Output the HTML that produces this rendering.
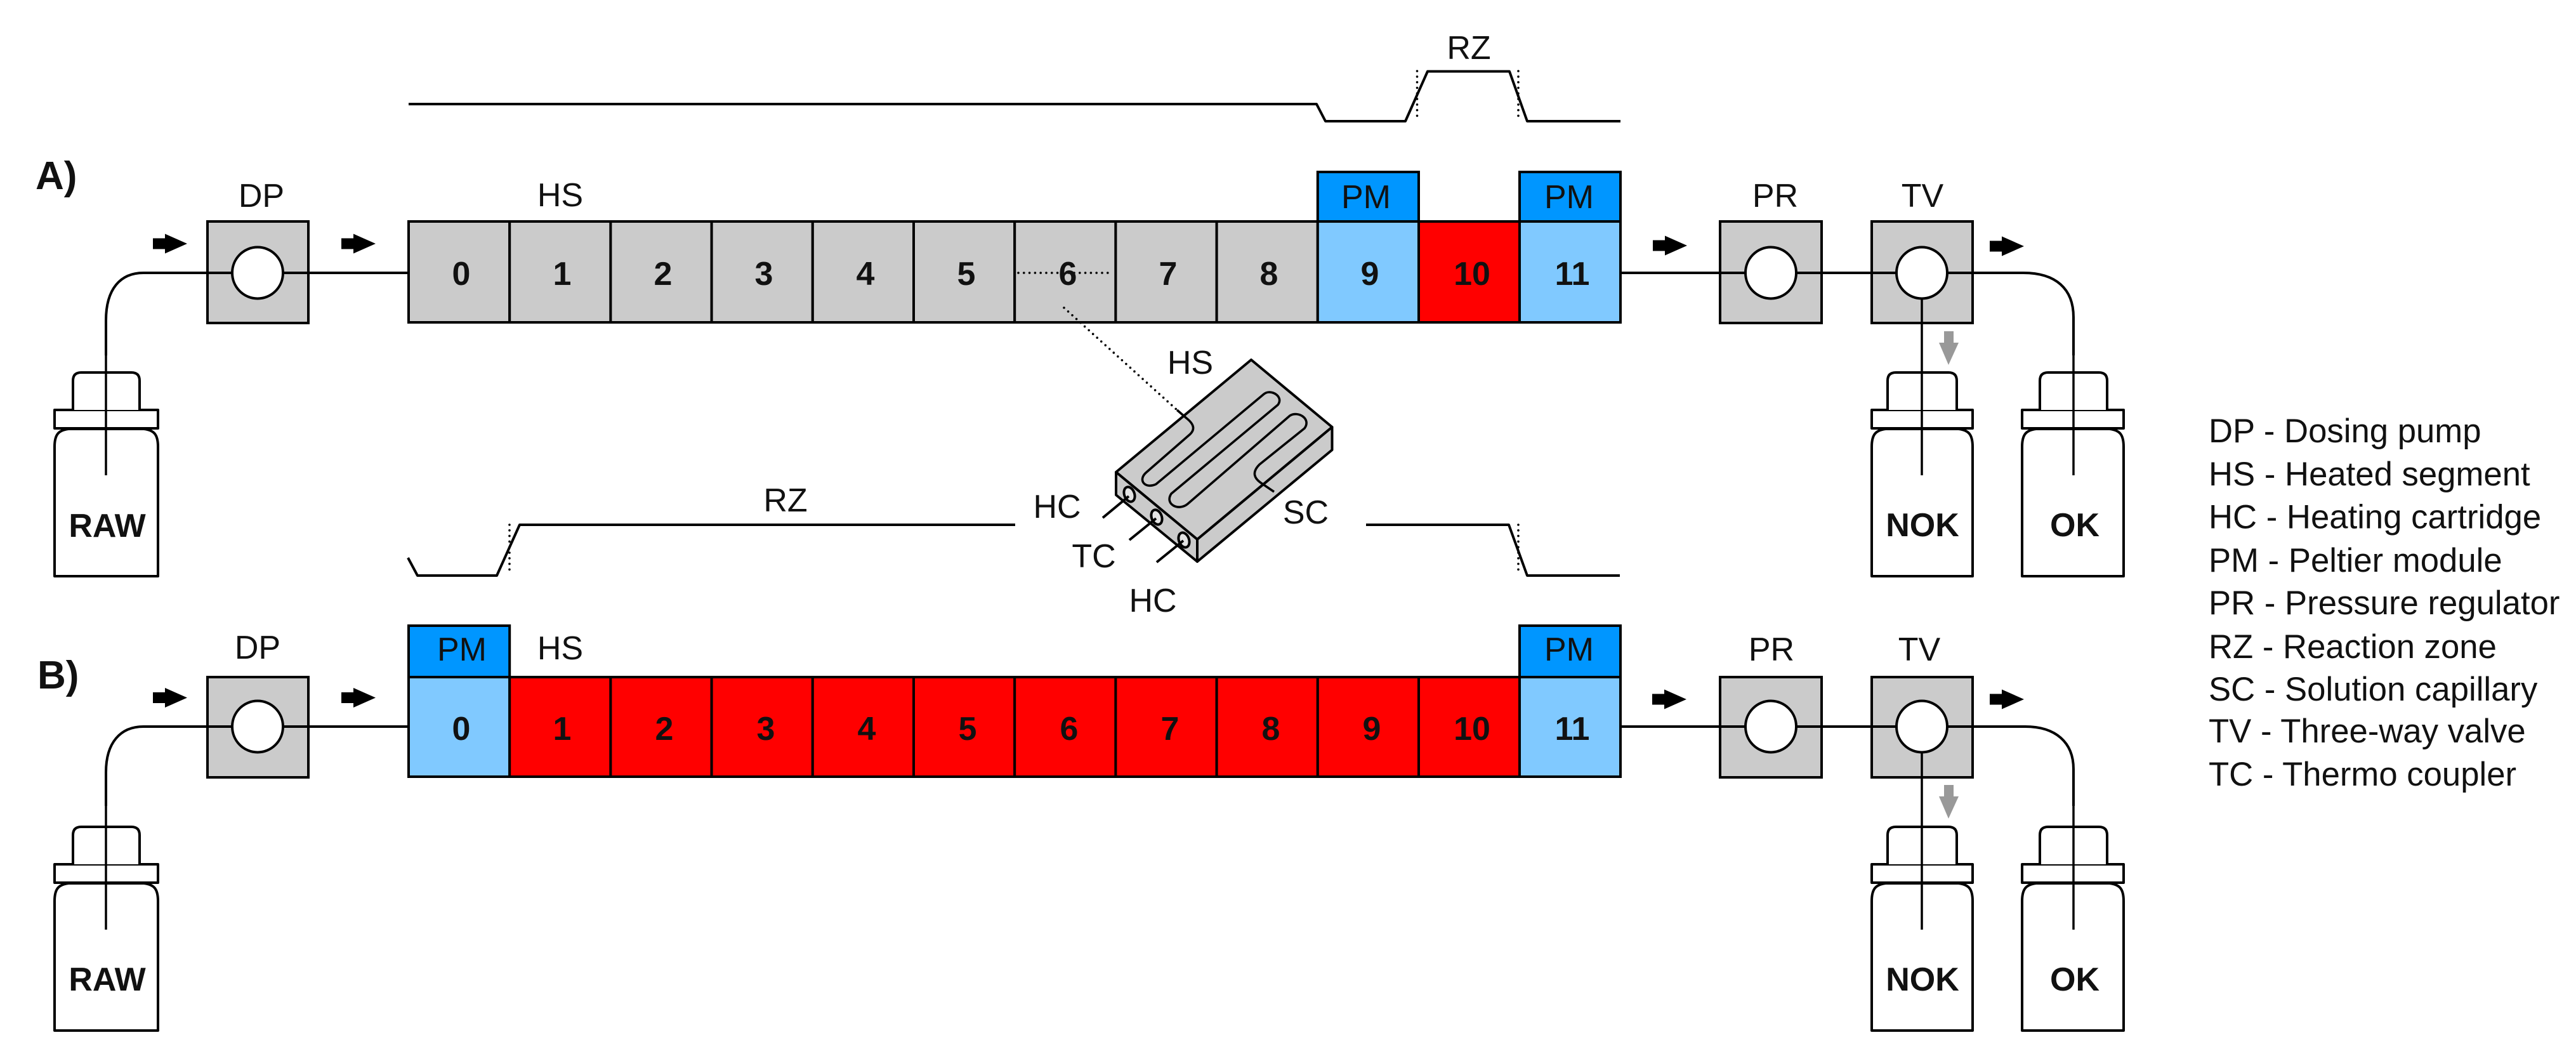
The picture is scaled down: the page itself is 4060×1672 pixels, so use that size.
<!DOCTYPE html>
<html lang="en">
<head>
<meta charset="utf-8">
<title>Flow reactor diagram</title>
<style>
html,body{margin:0;padding:0;background:#fff;width:4060px;height:1672px;overflow:hidden}
svg{display:block}
text{font-family:"Liberation Sans",Arial,sans-serif;fill:#111;font-size:52px}
.c{text-anchor:middle}
.b{font-weight:bold}
.box{stroke:#000;stroke-width:4;stroke-linejoin:miter}
.l{fill:none;stroke:#000;stroke-width:4;stroke-linejoin:round}
.t{fill:none;stroke:#000;stroke-width:3.5}
.d{fill:none;stroke:#000;stroke-width:3.6;stroke-linecap:round;stroke-dasharray:0 8.8}
.g{fill:#cbcbcb}.lb{fill:#80c9ff}.pm{fill:#0096ff}.r{fill:#ff0000}
.circ{fill:#fff;stroke:#000;stroke-width:4}
</style>
</head>
<body>
<svg xmlns="http://www.w3.org/2000/svg" width="4060" height="1672" viewBox="0 0 4060 1672">
<defs>
<polygon id="arr" points="0,-8.5 19,-8.5 19,-15.5 54,0 19,15.5 19,8.5 0,8.5" fill="#000"/>
<polygon id="garr" points="3064,522 3079,522 3079,540 3087,540 3071,575 3056,540 3064,540" fill="#999"/>
<g id="b1" class="l" fill="#fff">
<path d="M86 908V704C86 685 92 678 108 676H227C243 678 249 685 249 704V908Z" fill="#fff"/>
<rect x="86" y="646" width="163" height="29" fill="#fff"/>
<path d="M115 646V600Q115 587 128 587H207Q220 587 220 600V646" fill="#fff"/>
</g>
<g id="b2" class="l">
<path d="M2950 908V704C2950 685 2956 678 2972 676H3087C3103 678 3109 685 3109 704V908Z" fill="#fff"/>
<rect x="2950" y="646" width="159" height="29" fill="#fff"/>
<path d="M2975 646V600Q2975 587 2988 587H3071Q3084 587 3084 600V646" fill="#fff"/>
</g>
<g id="b3" class="l">
<path d="M3187 908V704C3187 685 3193 678 3209 676H3325C3341 678 3347 685 3347 704V908Z" fill="#fff"/>
<rect x="3187" y="646" width="160" height="29" fill="#fff"/>
<path d="M3215 646V600Q3215 587 3228 587H3308Q3321 587 3321 600V646" fill="#fff"/>
</g>
</defs>

<!-- Upper profile -->
<polyline class="l" points="644,164 2075,164 2089,191 2215,191 2250,112.5 2379,112.5 2407,191 2554,191"/>
<line class="d" x1="2233.5" y1="112" x2="2233.5" y2="186"/>
<line class="d" x1="2393" y1="112" x2="2393" y2="186"/>
<text class="c" x="2315" y="93">RZ</text>

<!-- Panel A -->
<text class="b" x="56" y="298" style="font-size:62px">A)</text>

<!-- bottles A -->
<use href="#b1"/><use href="#b2"/><use href="#b3"/>
<!-- boxes A -->
<rect class="box g" x="327" y="349" width="159" height="160"/>
<rect class="box g" x="2711" y="349" width="160" height="160"/>
<rect class="box g" x="2950" y="349" width="159" height="160"/>
<!-- tubes A -->
<path class="l" d="M326 430H226C190 430 167 455 167 505V560"/>
<line class="t" x1="167" y1="555" x2="167" y2="749"/>
<line class="l" x1="326" y1="430" x2="366" y2="430"/>
<line class="l" x1="446" y1="430" x2="644" y2="430"/>
<line class="l" x1="2554" y1="430" x2="2751" y2="430"/>
<line class="l" x1="2832" y1="430" x2="2989" y2="430"/>
<path class="l" d="M3069 430H3189C3240 430 3268 455 3268 500V560"/>
<line class="t" x1="3268" y1="555" x2="3268" y2="749"/>
<line class="t" x1="3029" y1="470" x2="3029" y2="749"/>
<ellipse class="circ" cx="406" cy="430" rx="40" ry="40.5"/>
<ellipse class="circ" cx="2791" cy="430" rx="40" ry="40.5"/>
<ellipse class="circ" cx="3029" cy="430" rx="40" ry="40.5"/>

<!-- segments A -->
<g class="box">
<rect class="g" x="644" y="349" width="159.2" height="159"/>
<rect class="g" x="803.2" y="349" width="159.2" height="159"/>
<rect class="g" x="962.4" y="349" width="159.2" height="159"/>
<rect class="g" x="1121.6" y="349" width="159.2" height="159"/>
<rect class="g" x="1280.8" y="349" width="159.2" height="159"/>
<rect class="g" x="1440" y="349" width="159.2" height="159"/>
<rect class="g" x="1599.2" y="349" width="159.2" height="159"/>
<rect class="g" x="1758.4" y="349" width="159.2" height="159"/>
<rect class="g" x="1917.6" y="349" width="159.2" height="159"/>
<rect class="lb" x="2076.8" y="349" width="159.2" height="159"/>
<rect class="r" x="2236" y="349" width="159" height="159"/>
<rect class="lb" x="2395" y="349" width="159" height="159"/>
<rect class="pm" x="2076.8" y="271" width="159.2" height="78"/>
<rect class="pm" x="2395" y="271" width="159" height="78"/>
</g>
<line class="d" x1="1605" y1="430" x2="1750" y2="430"/>
<line class="d" x1="1677" y1="485" x2="1855" y2="646"/>

<g class="b c">
<text class="c b" x="727" y="449">0</text>
<text class="c b" x="886" y="449">1</text>
<text class="c b" x="1045" y="449">2</text>
<text class="c b" x="1204" y="449">3</text>
<text class="c b" x="1364" y="449">4</text>
<text class="c b" x="1523" y="449">5</text>
<text class="c b" x="1683" y="449">6</text>
<text class="c b" x="1841" y="449">7</text>
<text class="c b" x="2000" y="449">8</text>
<text class="c b" x="2159" y="449">9</text>
<text class="c b" x="2320" y="449">10</text>
<text class="c b" x="2478" y="449">11</text>
</g>
<text class="c" x="2153" y="328">PM</text>
<text class="c" x="2473" y="328">PM</text>
<text class="c" x="412" y="326">DP</text>
<text class="c" x="883" y="325">HS</text>
<text class="c" x="2798" y="326">PR</text>
<text class="c" x="3030" y="326">TV</text>
<text class="c b" x="169" y="846">RAW</text>
<text class="c b" x="3030" y="845">NOK</text>
<text class="c b" x="3270" y="845">OK</text>

<use href="#arr" x="241" y="384"/>
<use href="#arr" x="538" y="384"/>
<use href="#arr" x="2605" y="387"/>
<use href="#arr" x="3136" y="388"/>
<use href="#garr"/>

<!-- Lower profile -->
<polyline class="l" points="643,879 658,907 783,907 819,827 1600,827"/>
<polyline class="l" points="2153,827 2378,827 2407,907 2553,907"/>
<line class="d" x1="803" y1="827" x2="803" y2="898"/>
<line class="d" x1="2393" y1="827" x2="2393" y2="898"/>
<text class="c" x="1238" y="806">RZ</text>

<!-- Heated block -->
<g class="l">
<polygon class="g" points="1972,567 2099.5,673 1887,850 1759,744"/>
<polygon class="g" points="2099.5,673 2099.5,709 1887,885 1887,850"/>
<polygon class="g" points="1759,744 1759,780 1887,885 1887,850"/>
<path d="M1855 646L1870 659C1884 670 1882 678 1876 684L1806 745C1793 757 1805 771 1822 763L1992 621C2003 612 2024 625 2014 638L1846 778C1835 795 1858 806 1872 794L2033 655C2046 647 2067 660 2056 675L1985 732C1972 745 1978 754 1986 760L2008 775" stroke-width="3.6"/>
<ellipse cx="1780" cy="779" rx="8" ry="12" transform="rotate(-20 1780 779)" fill="#e4e4e4"/>
<ellipse cx="1823" cy="815" rx="8" ry="12" transform="rotate(-20 1823 815)" fill="#e4e4e4"/>
<ellipse cx="1866" cy="851" rx="8" ry="12" transform="rotate(-20 1866 851)" fill="#e4e4e4"/>
<line x1="1738" y1="816" x2="1779" y2="782"/>
<line x1="1780" y1="851" x2="1822" y2="817"/>
<line x1="1823" y1="886" x2="1865" y2="852"/>
</g>
<text class="c" x="1876" y="589">HS</text>
<text class="c" x="1666" y="816">HC</text>
<text class="c" x="1724" y="894">TC</text>
<text class="c" x="1817" y="964">HC</text>
<text class="c" x="2058" y="825">SC</text>

<!-- Panel B -->
<text class="b" x="59" y="1085" style="font-size:62px">B)</text>
<g transform="translate(0,716)">
<use href="#b1"/><use href="#b2"/><use href="#b3"/>
</g>
<rect class="box g" x="327" y="1067" width="159" height="158"/>
<rect class="box g" x="2711" y="1067" width="160" height="158"/>
<rect class="box g" x="2950" y="1067" width="159" height="158"/>
<path class="l" d="M326 1145H226C190 1145 167 1170 167 1217V1270"/>
<line class="t" x1="167" y1="1265" x2="167" y2="1465"/>
<line class="l" x1="326" y1="1145" x2="366" y2="1145"/>
<line class="l" x1="446" y1="1145" x2="644" y2="1145"/>
<line class="l" x1="2554" y1="1145" x2="2751" y2="1145"/>
<line class="l" x1="2832" y1="1145" x2="2989" y2="1145"/>
<path class="l" d="M3069 1145H3192C3240 1145 3268 1170 3268 1212V1270"/>
<line class="t" x1="3268" y1="1265" x2="3268" y2="1465"/>
<line class="t" x1="3029" y1="1185" x2="3029" y2="1465"/>
<ellipse class="circ" cx="406" cy="1145" rx="40" ry="40.5"/>
<ellipse class="circ" cx="2791" cy="1145" rx="40" ry="40.5"/>
<ellipse class="circ" cx="3029" cy="1145" rx="40" ry="40.5"/>

<g class="box">
<rect class="lb" x="644" y="1067" width="159.2" height="157"/>
<rect class="r" x="803.2" y="1067" width="159.2" height="157"/>
<rect class="r" x="962.4" y="1067" width="159.2" height="157"/>
<rect class="r" x="1121.6" y="1067" width="159.2" height="157"/>
<rect class="r" x="1280.8" y="1067" width="159.2" height="157"/>
<rect class="r" x="1440" y="1067" width="159.2" height="157"/>
<rect class="r" x="1599.2" y="1067" width="159.2" height="157"/>
<rect class="r" x="1758.4" y="1067" width="159.2" height="157"/>
<rect class="r" x="1917.6" y="1067" width="159.2" height="157"/>
<rect class="r" x="2076.8" y="1067" width="159.2" height="157"/>
<rect class="r" x="2236" y="1067" width="159" height="157"/>
<rect class="lb" x="2395" y="1067" width="159" height="157"/>
<rect class="pm" x="644" y="986" width="159.2" height="81"/>
<rect class="pm" x="2395" y="986" width="159" height="81"/>
</g>
<text class="c b" x="727" y="1166">0</text>
<text class="c b" x="886" y="1166">1</text>
<text class="c b" x="1047" y="1166">2</text>
<text class="c b" x="1207" y="1166">3</text>
<text class="c b" x="1366" y="1166">4</text>
<text class="c b" x="1525" y="1166">5</text>
<text class="c b" x="1685" y="1166">6</text>
<text class="c b" x="1844" y="1166">7</text>
<text class="c b" x="2003" y="1166">8</text>
<text class="c b" x="2162" y="1166">9</text>
<text class="c b" x="2320" y="1166">10</text>
<text class="c b" x="2478" y="1166">11</text>
<text class="c" x="728" y="1041">PM</text>
<text class="c" x="2473" y="1041">PM</text>
<text class="c" x="406" y="1038">DP</text>
<text class="c" x="883" y="1039">HS</text>
<text class="c" x="2792" y="1041">PR</text>
<text class="c" x="3025" y="1041">TV</text>
<text class="c b" x="169" y="1561">RAW</text>
<text class="c b" x="3030" y="1561">NOK</text>
<text class="c b" x="3270" y="1561">OK</text>

<use href="#arr" x="241" y="1099.5"/>
<use href="#arr" x="538" y="1099.5"/>
<use href="#arr" x="2604" y="1102"/>
<use href="#arr" x="3136" y="1102"/>
<use href="#garr" y="715"/>

<!-- Legend -->
<g>
<text x="3481" y="697" style="font-size:52.7px">DP - Dosing pump</text>
<text x="3481" y="765" style="font-size:52.7px">HS - Heated segment</text>
<text x="3481" y="832.5" style="font-size:52.7px">HC - Heating cartridge</text>
<text x="3481" y="901" style="font-size:52.7px">PM - Peltier module</text>
<text x="3481" y="968" style="font-size:52.7px">PR - Pressure regulator</text>
<text x="3481" y="1037" style="font-size:52.7px">RZ - Reaction zone</text>
<text x="3481" y="1104" style="font-size:52.7px">SC - Solution capillary</text>
<text x="3481" y="1170" style="font-size:52.7px">TV - Three-way valve</text>
<text x="3481" y="1238" style="font-size:52.7px">TC - Thermo coupler</text>
</g>
</svg>
</body>
</html>
